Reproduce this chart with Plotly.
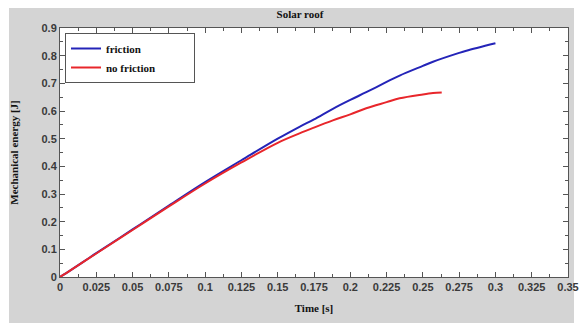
import plotly.graph_objects as go

t_friction = [0, 0.004, 0.025, 0.05, 0.075, 0.1, 0.125, 0.15, 0.165, 0.175, 0.188, 0.2, 0.211, 0.225, 0.234, 0.25, 0.257, 0.275, 0.28, 0.3]
e_friction = [0, 0.013, 0.086, 0.172, 0.258, 0.343, 0.422, 0.500, 0.543, 0.570, 0.608, 0.640, 0.668, 0.705, 0.728, 0.763, 0.778, 0.810, 0.818, 0.845]

t_nofriction = [0, 0.004, 0.025, 0.05, 0.075, 0.1, 0.125, 0.15, 0.165, 0.175, 0.188, 0.2, 0.211, 0.225, 0.234, 0.25, 0.257, 0.263]
e_nofriction = [0, 0.013, 0.085, 0.170, 0.255, 0.338, 0.414, 0.485, 0.519, 0.540, 0.566, 0.588, 0.610, 0.632, 0.646, 0.660, 0.665, 0.667]

x_ticks = [0, 0.025, 0.05, 0.075, 0.1, 0.125, 0.15, 0.175, 0.2, 0.225, 0.25, 0.275, 0.3, 0.325, 0.35]
x_labels = ["0", "0.025", "0.05", "0.075", "0.1", "0.125", "0.15", "0.175", "0.2", "0.225", "0.25", "0.275", "0.3", "0.325", "0.35"]
y_ticks = [0, 0.1, 0.2, 0.3, 0.4, 0.5, 0.6, 0.7, 0.8, 0.9]
y_labels = ["0", "0.1", "0.2", "0.3", "0.4", "0.5", "0.6", "0.7", "0.8", "0.9"]

serif = "Liberation Serif"
tickfont = dict(family="Liberation Sans", size=11, color="#3a3a3a", weight="bold")

pad = "&nbsp;" * 12
fig = go.Figure()
fig.add_trace(go.Scatter(x=t_friction, y=e_friction, mode="lines", name="friction",
                         line=dict(color="#2424b8", width=2, shape="spline")))
fig.add_trace(go.Scatter(x=t_nofriction, y=e_nofriction, mode="lines", name="no friction" + pad,
                         line=dict(color="#e8262b", width=2, shape="spline")))

W, H = 582, 323
L, R, T, B = 60, 14, 28, 46
pw, ph = W - L - R, H - T - B

def px_x(p):
    return (p - L) / pw

def px_y(p):
    return (H - B - p) / ph

# white outer border around the gray figure panel
for (a, b, c, d) in [(0, 9, 0, 323), (574, 582, 0, 323), (0, 582, 0, 8)]:
    fig.add_shape(type="rect", xref="paper", yref="paper",
                  x0=px_x(a), x1=px_x(b), y0=px_y(d), y1=px_y(c),
                  fillcolor="white", line=dict(width=0), layer="below")

axis_common = dict(showgrid=False, zeroline=False, ticks="inside", ticklen=5,
                   tickcolor="#555", showline=True, linecolor="#555", linewidth=1,
                   mirror="ticks", tickfont=tickfont, automargin=False)

fig.update_layout(
    width=W, height=H,
    margin=dict(l=L, r=R, t=T, b=B),
    paper_bgcolor="#d4d4d4", plot_bgcolor="white",
    title=dict(text="<b>Solar roof</b>", x=300 / W, xanchor="center",
               y=1 - 14 / H, yanchor="middle",
               font=dict(family=serif, size=11, color="#111"), automargin=False),
    xaxis=dict(range=[0, 0.35], tickvals=x_ticks, ticktext=x_labels,
               minor=dict(ticks="inside", ticklen=3, dtick=0.0125, tickcolor="#555"),
               title=dict(text="<b>Time [s]</b>", font=dict(family=serif, size=11, color="#111"), standoff=12),
               **axis_common),
    yaxis=dict(range=[0, 0.9], tickvals=y_ticks, ticktext=y_labels,
               minor=dict(ticks="inside", ticklen=3, dtick=0.05, tickcolor="#555"),
               title=dict(text="<b>Mechanical energy [J]</b>", font=dict(family=serif, size=11, color="#111"), standoff=20),
               **axis_common),
    legend=dict(x=px_x(65), y=px_y(33), xanchor="left", yanchor="top",
                bgcolor="white", bordercolor="#555", borderwidth=1,
                font=dict(family=serif, size=11, color="#111", weight="bold"),
                tracegroupgap=0, itemwidth=30),
    showlegend=True,
)

fig.write_html("out.html")
